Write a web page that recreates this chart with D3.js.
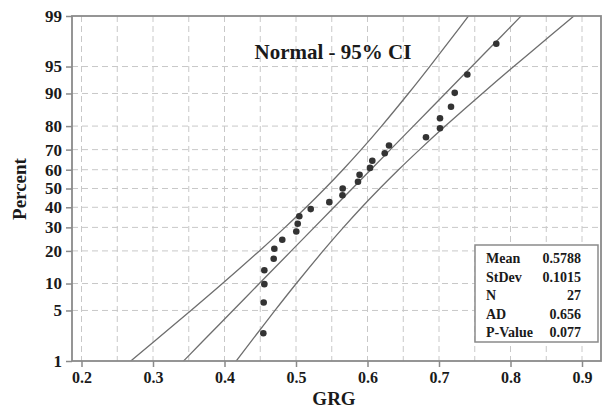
<!DOCTYPE html>
<html>
<head>
<meta charset="utf-8">
<script src="https://cdn.jsdelivr.net/npm/d3@7/dist/d3.min.js"></script>
<style>
  html, body { margin: 0; padding: 0; background: #fff; }
  svg { display: block; }
  text { font-family: "Liberation Serif", "Times New Roman", serif; font-weight: bold; fill: #1a1a1a; }
</style>
</head>
<body>
<svg id="chart" width="603" height="409"></svg>
<script>
// ---- data ----
const grgValues = [0.4543, 0.4548, 0.4557, 0.4557, 0.4688, 0.4697, 0.4808, 0.5004, 0.5024,
  0.5046, 0.5206, 0.5466, 0.5650, 0.5653, 0.5867, 0.5889, 0.6035, 0.6067,
  0.6241, 0.6301, 0.6818, 0.7014, 0.7014, 0.7168, 0.7220, 0.7396, 0.7801];
const percentValues = [2.55, 6.20, 9.85, 13.50, 17.15, 20.80, 24.45, 28.10, 31.75,
  35.40, 39.05, 42.70, 46.35, 50.00, 53.65, 57.30, 60.95, 64.60,
  68.25, 71.90, 75.55, 79.20, 82.85, 86.50, 90.15, 93.80, 97.45];
const bandPercents = [0.5, 1, 2, 5, 10, 20, 30, 40, 50, 60, 70, 80, 90, 95, 98, 99, 99.5];
const fitLine = [0.3173, 0.3427, 0.3703, 0.4118, 0.4487, 0.4934, 0.5256, 0.5531, 0.5788,
  0.6045, 0.6320, 0.6642, 0.7089, 0.7458, 0.7873, 0.8149, 0.8403];
const ciUpperBound = [0.2378, 0.2690, 0.3028, 0.3531, 0.3971, 0.4488, 0.4847, 0.5142, 0.5405,
  0.5656, 0.5912, 0.6197, 0.6572, 0.6870, 0.7198, 0.7412, 0.7607];
const ciLowerBound = [0.3969, 0.4164, 0.4378, 0.4706, 0.5004, 0.5379, 0.5664, 0.5920, 0.6171,
  0.6434, 0.6729, 0.7088, 0.7606, 0.8045, 0.8548, 0.8886, 0.9198];
const xTicks = [0.2, 0.3, 0.4, 0.5, 0.6, 0.7, 0.8, 0.9];
const xGrid = [0.2, 0.25, 0.3, 0.35, 0.4, 0.45, 0.5, 0.55, 0.6, 0.65, 0.7, 0.75, 0.8, 0.85, 0.9];
const yTicks = [1, 5, 10, 20, 30, 40, 50, 60, 70, 80, 90, 95, 99];
const statLabels = ["Mean", "StDev", "N", "AD", "P-Value"];
const statValues = ["0.5788", "0.1015", "27", "0.656", "0.077"];
const titleText = "Normal - 95% CI";

// ---- inverse normal (probability axis transform) ----
function qnorm(p) {
  const a = [-3.969683028665376e+01, 2.209460984245205e+02, -2.759285104469687e+02, 1.383577518672690e+02, -3.066479806614716e+01, 2.506628277459239e+00];
  const b = [-5.447609879822406e+01, 1.615858368580409e+02, -1.556989798598866e+02, 6.680131188771972e+01, -1.328068155288572e+01];
  const c = [-7.784894002430293e-03, -3.223964580411365e-01, -2.400758277161838e+00, -2.549671010115819e+00, 4.374664141464968e+00, 2.938163982698783e+00];
  const d = [7.784695709041462e-03, 3.224671290700398e-01, 2.445134137142996e+00, 3.754408661907416e+00];
  const pl = 0.02425, ph = 1 - pl;
  let q, r;
  if (p < pl) { q = Math.sqrt(-2 * Math.log(p));
    return (((((c[0]*q+c[1])*q+c[2])*q+c[3])*q+c[4])*q+c[5]) / ((((d[0]*q+d[1])*q+d[2])*q+d[3])*q+1); }
  if (p > ph) { q = Math.sqrt(-2 * Math.log(1 - p));
    return -(((((c[0]*q+c[1])*q+c[2])*q+c[3])*q+c[4])*q+c[5]) / ((((d[0]*q+d[1])*q+d[2])*q+d[3])*q+1); }
  q = p - 0.5; r = q * q;
  return (((((a[0]*r+a[1])*r+a[2])*r+a[3])*r+a[4])*r+a[5])*q / (((((b[0]*r+b[1])*r+b[2])*r+b[3])*r+b[4])*r+1);
}

// ---- layout ----
const plotL = 72, plotR = 601, plotT = 16, plotB = 361;
const svg = d3.select("#chart");

const x = d3.scaleLinear().domain([0.2, 0.9]).range([81.5, 582]);
const zScale = d3.scaleLinear().domain([qnorm(0.01), qnorm(0.99)]).range([plotB, plotT]);
const y = p => zScale(qnorm(p / 100));

svg.append("defs").append("clipPath").attr("id", "clip")
  .append("rect").attr("x", plotL).attr("y", plotT).attr("width", plotR - plotL).attr("height", plotB - plotT);

// grid
const grid = svg.append("g").attr("stroke", "#c8c8c8").attr("stroke-width", 1).attr("stroke-dasharray", "6,4");
grid.selectAll("line.v").data(xGrid).join("line").attr("class", "v")
  .attr("x1", d => x(d)).attr("x2", d => x(d)).attr("y1", plotT).attr("y2", plotB);
grid.selectAll("line.h").data(yTicks.filter(t => t > 1 && t < 99)).join("line").attr("class", "h")
  .attr("x1", plotL).attr("x2", plotR).attr("y1", d => y(d)).attr("y2", d => y(d));

// lines
const plot = svg.append("g").attr("clip-path", "url(#clip)");
function lineFor(arr) {
  return d3.line().x((d, i) => x(arr[i])).y((d) => y(d)).curve(d3.curveNatural)(bandPercents);
}
[ciUpperBound, fitLine, ciLowerBound].forEach(arr => {
  plot.append("path").attr("d", lineFor(arr)).attr("fill", "none")
    .attr("stroke", "#6e6e6e").attr("stroke-width", 1.3);
});

// points
plot.selectAll("circle").data(grgValues).join("circle")
  .attr("cx", d => x(d)).attr("cy", (d, i) => y(percentValues[i])).attr("r", 3.3)
  .attr("fill", "#333");

// frame
svg.append("rect").attr("x", plotL).attr("y", plotT).attr("width", plotR - plotL).attr("height", plotB - plotT)
  .attr("fill", "none").attr("stroke", "#8a8a8a").attr("stroke-width", 1.8);

// axes
const yAxis = d3.axisLeft(zScale).tickValues(yTicks.map(t => qnorm(t / 100)))
  .tickFormat((d, i) => yTicks[i]).tickSize(6).tickPadding(4);
const gy = svg.append("g").attr("transform", `translate(${plotL},0)`).call(yAxis);
gy.select(".domain").remove();
gy.selectAll(".tick line").attr("stroke", "#8a8a8a").attr("stroke-width", 1.5);
gy.selectAll(".tick text").style("font-size", "17px").attr("font-family", null).attr("fill", "#1a1a1a");

const xAxis = d3.axisBottom(x).tickValues(xTicks).tickFormat(d3.format(".1f")).tickSize(6).tickPadding(5);
const gx = svg.append("g").attr("transform", `translate(0,${plotB})`).call(xAxis);
gx.select(".domain").remove();
gx.selectAll(".tick line").attr("stroke", "#8a8a8a").attr("stroke-width", 1.5);
gx.selectAll(".tick text").style("font-size", "16px").attr("font-family", null).attr("fill", "#1a1a1a");

// titles
svg.append("text").attr("x", 334).attr("y", 405).attr("text-anchor", "middle").style("font-size", "19px").text("GRG");
svg.append("text").attr("transform", "translate(26,189) rotate(-90)").attr("text-anchor", "middle")
  .style("font-size", "19px").text("Percent");
svg.append("text").attr("x", 333).attr("y", 59).attr("text-anchor", "middle").style("font-size", "21px").text(titleText);

// stats box
const box = svg.append("g");
box.append("rect").attr("x", 475).attr("y", 245).attr("width", 123).attr("height", 97)
  .attr("fill", "#fff").attr("stroke", "#8a8a8a").attr("stroke-width", 1.5);
statLabels.forEach((lab, i) => {
  box.append("text").attr("x", 486).attr("y", 263 + i * 18.5).style("font-size", "14px").text(lab);
  box.append("text").attr("x", 581).attr("y", 263 + i * 18.5).attr("text-anchor", "end").style("font-size", "14px").text(statValues[i]);
});
</script>
</body>
</html>
